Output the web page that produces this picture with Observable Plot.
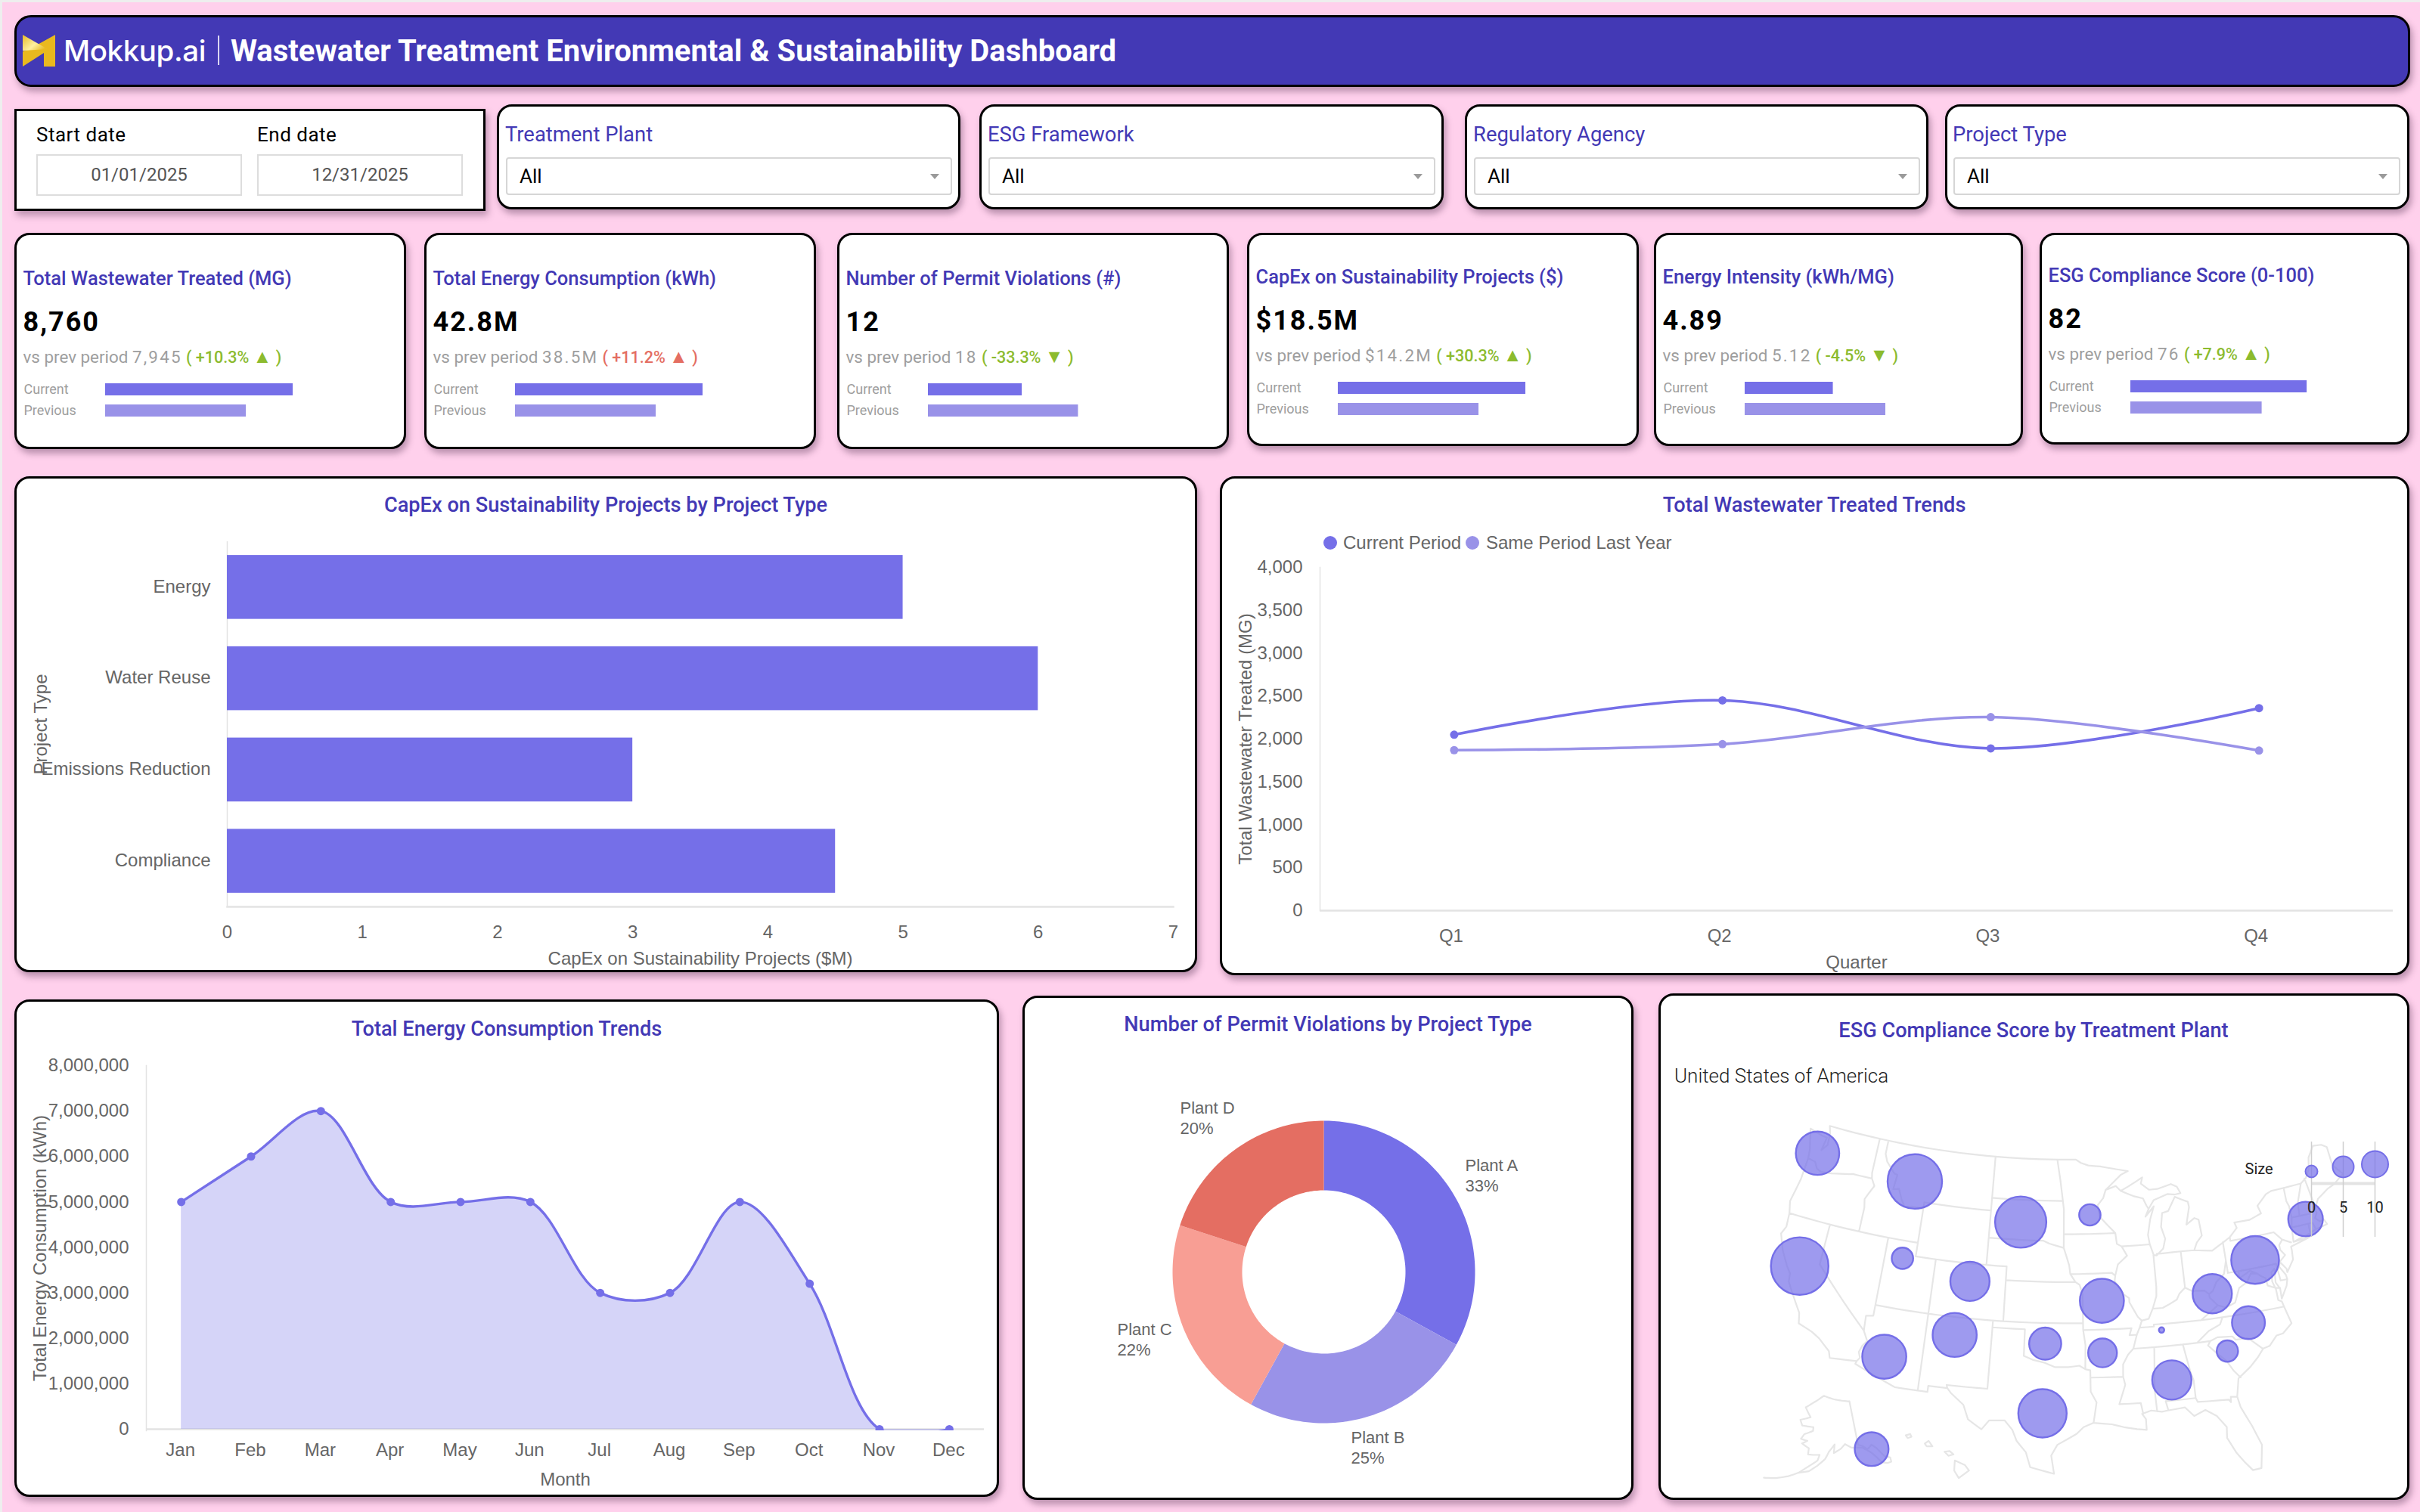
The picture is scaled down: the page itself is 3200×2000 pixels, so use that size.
<!DOCTYPE html>
<html><head><meta charset="utf-8">
<script src="https://cdn.jsdelivr.net/npm/d3@7"></script>
<script src="https://cdn.jsdelivr.net/npm/@observablehq/plot@0.6"></script>
<style>
html,body{margin:0;padding:0;width:3200px;height:2000px;overflow:hidden;background:#ffd0ec;font-family:Roboto,sans-serif}
#root{position:relative;width:3200px;height:2000px;overflow:hidden}
.card{position:absolute;box-sizing:border-box;background:#fff;border:3px solid #000;border-radius:20px;box-shadow:3px 6px 9px rgba(60,30,60,.35)}
.t{position:absolute;white-space:nowrap;transform:translateY(-50%);line-height:1.2}
.c{transform:translate(-50%,-50%)}
.plot{position:absolute}
.plot svg{display:block;overflow:visible;background:transparent}
</style></head><body><div id="root"></div>
<script>
// ---------- data ----------
const kpiTitles=["Total Wastewater Treated (MG)","Total Energy Consumption (kWh)","Number of Permit Violations (#)","CapEx on Sustainability Projects ($)","Energy Intensity (kWh/MG)","ESG Compliance Score (0-100)"];
const kpiValues=["8,760","42.8M","12","$18.5M","4.89","82"];
const kpiPrevious=["7,945","38.5M","18","$14.2M","5.12","76"];
const kpiDeltas=["+10.3%","+11.2%","-33.3%","+30.3%","-4.5%","+7.9%"];
const kpiArrows=["▲","▲","▼","▲","▼","▲"];
const kpiGood=[true,false,true,true,true,true];
const kpiBarCurrent=[100,100,50,100,47,94];
const kpiBarPrevious=[75,75,80,75,75,70];
const filterNames=["Treatment Plant","ESG Framework","Regulatory Agency","Project Type"];
const projectTypes=["Energy","Water Reuse","Emissions Reduction","Compliance"];
const capexByType=[5,6,3,4.5];
const quarters=["Q1","Q2","Q3","Q4"];
const treatedCurrent=[2050,2450,1890,2360];
const treatedLastYear=[1870,1940,2255,1865];
const treatedTicks=[0,500,1000,1500,2000,2500,3000,3500,4000];
const months=["Jan","Feb","Mar","Apr","May","Jun","Jul","Aug","Sep","Oct","Nov","Dec"];
const energyByMonth=[5e6,6e6,7e6,5e6,5e6,5e6,3e6,3e6,5e6,3.2e6,0,0];
const energyTicks=[0,1e6,2e6,3e6,4e6,5e6,6e6,7e6,8e6];
const plantNames=["Plant A","Plant B","Plant C","Plant D"];
const plantShares=[33,25,22,20];
const bubbleLon=[-123.2,-112.4,-100.9,-93.75,-121.8,-112.3,-105.5,-92.8,-82.3,-77.7,-71.95,-79.4,-81.7,-86.9,-87.4,-92.9,-98.1,-98.2,-106.4,-112.4,-135.9];
const bubbleLat=[46.8,46.4,44.3,44.9,38.5,40.7,39.7,38.6,38.4,40.3,42.4,35.9,34.1,32.5,36.2,34.8,35.5,30.4,35.7,33.4,58.8];
const bubbleSize=[33,52,46,8,58,8,27,34,27,40,21,19,8,27,0.5,14.5,18,41,34,34,20];
const sizeLegend=[0,5,10];
// simplified US state lines, [lon,lat]
const usLines=[
// coast and national borders
[[-122.75,49],[-122.5,48.5],[-122.4,47.6],[-122.9,47.1],[-122.7,48.1],[-123.3,48.15],[-124.7,48.4],[-124.1,46.9],[-124,46.25],[-124.1,44.6],[-124.5,42.85],[-124.2,42],[-124.1,41],[-124.4,40.4],[-123.8,39.3],[-123,38.3],[-122.5,37.8],[-122.4,37.2],[-121.9,36.6],[-120.7,35.2],[-120.5,34.45],[-119.2,34.1],[-118.4,33.75],[-117.3,33],[-117.1,32.53],[-114.72,32.72],[-114.8,32.5],[-111.07,31.33],[-108.2,31.33],[-108.2,31.78],[-106.53,31.78],[-106.2,31.47],[-105,30.68],[-104.5,29.65],[-103.3,29],[-102.7,29.7],[-101.4,29.77],[-100.7,29.1],[-100.3,28.3],[-99.5,27.5],[-99.1,26.4],[-97.15,25.95],[-97.4,27.3],[-96.9,28.1],[-95.3,28.9],[-94.7,29.4],[-93.85,29.7],[-92.3,29.55],[-91.3,29.3],[-90.2,29.1],[-89.4,29],[-89.4,29.8],[-89.7,30.2],[-88.9,30.4],[-88,30.25],[-87.5,30.3],[-86,30.4],[-85.3,29.7],[-84.3,30.05],[-83.4,29.5],[-82.7,28.6],[-82.8,27.8],[-82.2,26.6],[-81.7,25.9],[-81.1,25.15],[-80.4,25.2],[-80.05,26.9],[-80.6,28.4],[-81.3,29.9],[-81.45,30.7],[-81.1,32],[-79.9,32.7],[-79.1,33.3],[-78.5,33.85],[-77.9,33.95],[-77.1,34.6],[-76.5,34.65],[-75.55,35.25],[-75.9,36.55],[-76,36.95],[-76.3,37.1],[-76.3,37.9],[-76.5,38.5],[-76.4,39.2],[-76.05,39.4],[-76.2,38.4],[-75.9,37.9],[-75.95,37.15],[-75.25,38],[-75.05,38.45],[-75.1,38.8],[-75.55,39.45],[-75.4,39.8],[-74.9,39.2],[-74.9,38.95],[-74.1,39.75],[-74,40.45],[-74,40.7],[-72,41.05],[-73.65,41],[-72,41.3],[-71.2,41.5],[-70.65,41.55],[-70,41.65],[-70.2,42.05],[-70.6,41.95],[-71,42.3],[-70.7,42.65],[-70.8,42.9],[-70.2,43.6],[-69,44.1],[-68.2,44.3],[-67,44.85],[-67.45,45.3],[-67.8,45.7],[-67.8,47.07],[-68.3,47.35],[-69.2,47.45],[-70,46.7],[-70.3,45.9],[-70.85,45.3],[-71.5,45.01],[-74.7,45],[-75.3,44.85],[-76.4,44.15],[-76.2,43.55],[-77.5,43.25],[-79.05,43.27],[-78.9,42.85],[-79.76,42.27],[-81.7,41.5],[-83.45,41.72],[-83.1,42.25],[-82.5,42.7],[-82.6,43.9],[-83,44.05],[-83.9,43.65],[-83.4,44.9],[-83.45,45.3],[-84.75,45.78],[-85.6,44.8],[-86.25,44.7],[-86.5,43.7],[-86.2,42.8],[-86.5,42.1],[-87.2,41.65],[-87.5,41.7],[-87.8,42.5],[-87.9,43.2],[-87.55,44.3],[-87.05,45.25],[-88,44.55],[-87.6,45.1],[-87,45.7],[-85.5,46.05],[-84.7,45.95],[-84.1,46],[-84.4,46.5],[-85,46.75],[-86.5,46.5],[-87.4,46.5],[-88.2,47],[-88,47.45],[-89.6,46.85],[-90.4,46.57],[-90.9,46.95],[-92,46.7],[-90.3,47.75],[-89.5,48],[-90.8,48.2],[-92.5,48.45],[-93.8,48.55],[-94.6,48.75],[-95.15,49],[-122.75,49]],
// western states
[[-124,46.25],[-123.2,46.15],[-122.8,45.7],[-122.3,45.55],[-121.2,45.65],[-119.3,45.93],[-119,46],[-116.92,46]],
[[-117.03,49],[-117.04,46.42],[-116.92,46],[-116.5,45.5],[-116.9,44.9],[-117.2,44.4],[-117.03,43.8],[-117.03,42]],
[[-124.2,42],[-111.05,42]],
[[-120,42],[-120,39],[-114.63,35],[-114.15,34.3],[-114.5,33.9],[-114.7,33.4],[-114.5,33],[-114.72,32.72]],
[[-114.04,42],[-114.04,36.2],[-114.7,36.1],[-114.63,35]],
[[-116.05,49],[-116.05,48],[-115.7,47.45],[-114.7,46.7],[-114.35,46.65],[-114.5,45.55],[-113.9,45.65],[-113.45,44.95],[-113,44.45],[-112.3,44.55],[-111.5,44.55],[-111.05,44.48]],
[[-111.05,45],[-104.05,45]],
[[-111.05,45],[-111.05,41],[-102.05,41],[-102.05,37]],
[[-114.04,37],[-94.62,37]],
[[-109.05,41],[-109.05,31.33]],
[[-103,37],[-103.05,32],[-106.62,32],[-106.53,31.78]],
[[-103,36.5],[-100,36.5],[-100,34.56],[-99.2,34.3],[-98.1,34.1],[-97.2,33.8],[-96,33.8],[-95,33.9],[-94.48,33.64]],
[[-104.05,49],[-104.05,41]],
[[-104.05,45.94],[-96.56,45.94]],
[[-104.05,43],[-98.5,43],[-97.9,42.8],[-96.45,42.5],[-96.1,41.7],[-95.9,41.2],[-95.8,40.6],[-95.3,40],[-94.9,39.8],[-94.62,39.1],[-94.62,36.5],[-94.43,35.4],[-94.48,33.64],[-94.04,33.55],[-94.04,32],[-93.55,31.2],[-93.85,29.7]],
[[-102.05,40],[-95.3,40]],
// central and eastern states
[[-97.2,49],[-96.85,47.5],[-96.56,45.94],[-96.45,45.3],[-96.45,42.5]],
[[-96.45,43.5],[-91.2,43.5]],
[[-95.77,40.58],[-91.73,40.61],[-91.42,40.38]],
[[-92,46.7],[-92.3,46.1],[-92.9,45.6],[-92.75,44.75],[-91.2,43.5],[-91.1,42.7],[-90.64,42.5],[-90.15,41.8],[-91.1,41.2],[-91.42,40.38],[-91.5,40],[-90.7,39],[-90.2,38.7],[-90.2,38.4],[-89.5,37.3],[-89.15,37],[-89.4,36.5],[-89.7,36],[-90.1,35],[-90.6,34.6],[-91.1,33.9],[-91.15,33],[-91,32.4],[-91.6,31],[-89.75,31],[-89.6,30.2]],
[[-90.64,42.5],[-87.8,42.5]],
[[-90.4,46.57],[-89.1,46.13],[-88.1,45.9],[-87.8,45.35],[-87.6,45.1]],
[[-87.53,41.7],[-87.53,39.35],[-87.6,38.7],[-88.05,37.8]],
[[-89.15,37],[-88.5,37.1],[-88.05,37.8],[-87.1,37.8],[-86.5,38],[-85.7,38.3],[-85.4,38.7],[-84.8,39.1],[-84.2,38.8],[-83,38.7],[-82.6,38.4],[-82.2,38.6],[-81.75,39.2],[-80.9,39.7],[-80.52,40.64]],
[[-84.8,39.1],[-84.8,41.72]],
[[-87.2,41.76],[-84.8,41.76],[-83.45,41.72]],
[[-80.52,42],[-80.52,39.72],[-75.79,39.72]],
[[-79.76,42.27],[-79.76,42],[-75.35,42],[-74.7,41.35],[-75.1,41],[-75.1,40.65],[-74.75,40.2],[-75.4,39.8]],
[[-74.7,41.35],[-73.9,41]],
[[-73.65,41],[-73.5,42.05],[-73.27,42.75],[-73.25,43.6],[-73.4,44],[-73.35,45.01]],
[[-73.5,42.05],[-71.38,42.02],[-71.2,41.5]],
[[-71.8,42.02],[-71.85,41.32]],
[[-73.27,42.75],[-71.3,42.7],[-70.85,42.87]],
[[-72.46,42.73],[-72.3,43.7],[-71.5,45.01]],
[[-70.7,43.1],[-71,45.3]],
[[-75.79,39.72],[-75.7,38.46],[-75.05,38.45]],
[[-75.9,37.95],[-76.3,38],[-77,38.3],[-77.05,38.85],[-77.5,39.1],[-77.75,39.3],[-78.4,39.6],[-79.5,39.2],[-79.48,39.72]],
[[-77.75,39.3],[-78.35,39.4],[-78.9,38.8],[-79.7,38.5],[-80.3,37.5],[-81.2,37.25],[-81.95,37.5],[-82.6,38.15],[-82.6,38.4]],
[[-81.95,37.5],[-83.68,36.6]],
[[-75.9,36.55],[-81.68,36.59],[-83.68,36.6],[-88.07,36.65],[-88.07,36.5],[-89.4,36.5]],
[[-81.68,36.59],[-82,36.1],[-83.1,35.75],[-84.3,35]],
[[-83.1,35],[-90.1,35]],
[[-83.1,35],[-82.4,35.2],[-81.05,35.1],[-80.8,34.82],[-79.67,34.8],[-78.55,33.85]],
[[-83.1,35],[-83.35,34.7],[-82.6,34],[-81.9,33.4],[-81.4,32.6],[-80.9,32.05]],
[[-85.6,35],[-85.18,32.87],[-85,32.3],[-85,31],[-87.6,31],[-87.45,30.35]],
[[-85,31],[-84.86,30.7],[-82.2,30.57],[-82.05,30.36],[-82,30.75],[-81.45,30.7]],
[[-88.2,35],[-88.47,31.9],[-88.4,30.3]],
[[-94.62,36.5],[-90.15,36.5],[-90.37,36],[-89.7,36]],
[[-94.04,33.02],[-91.15,33]],
// Alaska
[[-141,69.65],[-141,60.3],[-139.5,60],[-137.5,59],[-135.5,59.7],[-134,58.8],[-131.9,56.6],[-130,55.9],[-130.2,55],[-131.5,55],[-133.5,55.5],[-135,57],[-136.5,58.2],[-139.5,59.6],[-144,60],[-146.5,60.9],[-148.5,60],[-151.5,59.2],[-151,61],[-153.5,59.5],[-155,58],[-158,56.5],[-161,55.2],[-164.7,54.6],[-162,55.9],[-158,57.6],[-157.3,58.8],[-160,58.7],[-162,58.7],[-162,60],[-165.2,60.8],[-163,61.5],[-166,61.7],[-164.8,62.8],[-161,63.7],[-161,64.5],[-166.5,64.5],[-168,65.6],[-163,66.5],[-166.5,68.4],[-163,69.5],[-156.5,71.3],[-150,70.5],[-141,69.65]],
[[-164.7,54.6],[-168,53.5],[-172,52.5],[-176,51.8]],
// Hawaii
[[-155.9,20.25],[-155.1,19.9],[-154.8,19.5],[-155.6,18.95],[-155.95,19.5],[-155.9,20.25]],
[[-156.7,20.9],[-156.3,20.95],[-156,20.7],[-156.4,20.6],[-156.7,20.9]],
[[-158.25,21.5],[-157.95,21.7],[-157.65,21.3],[-158.1,21.3],[-158.25,21.5]],
[[-159.75,22.1],[-159.4,22.2],[-159.3,22],[-159.6,21.9],[-159.75,22.1]]
];

// ---------- palette ----------
const indigo="#4339b5",violet="#756fe8",lilac="#9992e8",axisGray="#666666",axisLine="#e3e3e3";
const plantColors=[violet,lilac,"#f89e94","#e46e62"];
const thousands=d3.format(",d");

// ---------- helpers ----------
const root=document.getElementById("root");
function card(x,y,x2,y2,extra){const d=document.createElement("div");d.className="card";d.style.cssText=`left:${x}px;top:${y}px;width:${x2-x}px;height:${y2-y}px;${extra||""}`;root.appendChild(d);return d}
function txt(x,cy,s,css,center){const d=document.createElement("div");d.className="t"+(center?" c":"");d.style.cssText=`left:${x}px;top:${cy}px;${css||""}`;if(typeof s==="string")d.textContent=s;else d.append(...s);root.appendChild(d);return d}
function box(x,y,x2,y2,css){const d=document.createElement("div");d.style.cssText=`position:absolute;box-sizing:border-box;left:${x}px;top:${y}px;width:${x2-x}px;height:${y2-y}px;${css}`;root.appendChild(d);return d}
function mount(x,y,svg){const d=document.createElement("div");d.className="plot";d.style.cssText=`left:${x}px;top:${y}px`;d.appendChild(svg);root.appendChild(d)}
const chartTitle=(x,cy,s)=>txt(x,cy,s,`font:500 27.2px Roboto;color:${indigo}`,true);
const axisStyle={fontFamily:"'Liberation Sans',Arial,sans-serif",fontSize:"24px",background:"transparent",overflow:"visible"};

// page frame
box(0,0,3200,3,"background:#eee");box(0,0,3,2000,"background:#eee");

// ---------- header ----------
card(19,20,3187,115,`background:${indigo};border-radius:22px`);
const logo=document.createElement("div");
logo.style.cssText="position:absolute;left:29px;top:45px";
logo.innerHTML=`<svg width="46" height="44" viewBox="0 0 46 44"><defs><linearGradient id="gold" x1="0" y1="0" x2="1" y2="0.7"><stop offset="0" stop-color="#e7bb25"/><stop offset=".6" stop-color="#fdf0a0"/><stop offset="1" stop-color="#e7bb25"/></linearGradient></defs><path d="M44 1 L44 43 L29 43 L29 25 L1 43 L1 23 L17 16 Z" fill="#e9b91f"/><path d="M1 1 L34 20 L1 22 Z" fill="url(#gold)"/></svg>`;
root.appendChild(logo);
txt(84,67,"Mokkup.ai","font:500 38.5px Inter;color:#fff;letter-spacing:-.4px");
box(288,47,290,86,"background:#d9d6f2");
txt(305,67,"Wastewater Treatment Environmental & Sustainability Dashboard","font:700 40px Roboto;color:#fff");

// ---------- date control ----------
card(19,144,642,279,"border-radius:0");
txt(48,178,"Start date","font:400 26px Roboto;color:#000;letter-spacing:.5px");
txt(340,178,"End date","font:400 26px Roboto;color:#000;letter-spacing:.5px");
[[48,320,"01/01/2025"],[340,612,"12/31/2025"]].forEach(([a,b,s])=>{
  box(a,204,b,259,"background:#fff;border:2px solid #ddd");
  txt((a+b)/2,231,s,"font:400 24px Roboto;color:#555",true);
});

// ---------- filters ----------
const filterBoxes=[[657,1270,669,1259],[1295,1909,1307,1898],[1937,2550,1949,2539],[2572,3186,2583,3174]];
filterBoxes.forEach(([a,b,c,e],i)=>{
  card(a,138,b,277);
  txt(c-1,178,filterNames[i],`font:400 27.4px Roboto;color:${indigo}`);
  box(c,208,e,258,"background:#fff;border:2px solid #d6d6d6;border-radius:4px");
  txt(c+18,233,"All","font:400 26px Roboto;color:#000");
  box(e-29,230,e-17,237,"background:#9a9a9a;clip-path:polygon(0 0,100% 0,50% 100%)");
});

// ---------- KPI cards ----------
const kpiBoxes=[[19,537,594,0],[561,1079,594,0],[1107,1625,594,0],[1649,2167,590,-2],[2187,2675,590,-2],[2697,3186,588,-4]];
kpiBoxes.forEach(([a,b,bottom,dy],i)=>{
  card(a,308,b,bottom);
  const x=a+11.5;
  txt(x,368+dy,kpiTitles[i],`font:500 25.5px Roboto;color:${indigo}`);
  txt(x,426+dy,kpiValues[i],"font:700 36px Roboto;color:#000;letter-spacing:2px");
  const col=kpiGood[i]?"#8cbb2e":"#e46e62";
  const sub=document.createElement("span");sub.textContent=`vs prev period `;
  const prev=document.createElement("span");prev.textContent=kpiPrevious[i];prev.style.letterSpacing="2.2px";
  const d=document.createElement("span");d.style.cssText=`color:${col};font-weight:500;white-space:pre;font-size:21.5px`;
  const arrow=document.createElement("span");arrow.textContent=kpiArrows[i];arrow.style.fontSize="25px";
  d.append(` ( ${kpiDeltas[i]} `,arrow,` )`);
  txt(x,471+dy,[sub,prev,d],"font:400 22.4px Roboto;color:#9e9e9e");
  const rows=["Current","Previous"];
  const data=[{k:rows[0],v:kpiBarCurrent[i]},{k:rows[1],v:kpiBarPrevious[i]}];
  const svg=Plot.plot({width:368,height:56,margin:0,marginLeft:108,marginRight:12,
    style:{fontFamily:"Roboto",fontSize:"18px",background:"transparent",overflow:"visible"},
    x:{domain:[0,100],range:[108,356],axis:null},
    y:{domain:rows,paddingInner:.4286,paddingOuter:.2143,axis:null,round:false},
    color:{domain:rows,range:[violet,lilac]},
    marks:[Plot.barX(data,{x:"v",y:"k",fill:"k"}),
      Plot.text(rows,{y:d=>d,text:d=>d,frameAnchor:"left",dx:-108,textAnchor:"start",fill:"#9e9e9e"})]});
  mount(x,501+dy,svg);
});

// ---------- CapEx bars ----------
card(19,630,1583,1286);
chartTitle(801,668,"CapEx on Sustainability Projects by Project Type");
mount(19,630,Plot.plot({width:1563,height:656,marginLeft:281,marginRight:31,marginTop:86,marginBottom:87,style:axisStyle,
  x:{domain:[0,7]},
  y:{domain:projectTypes,paddingInner:.3,paddingOuter:.15,round:false},
  marks:[
    Plot.frame({anchor:"bottom",stroke:axisLine,strokeWidth:2.5}),
    Plot.ruleX([0],{stroke:axisLine,strokeWidth:1.5}),
    Plot.barX(projectTypes.map((t,i)=>({t,v:capexByType[i]})),{x:"v",y:"t",fill:violet}),
    Plot.axisX({ticks:8,tickSize:0,tickPadding:24,color:axisGray,label:"CapEx on Sustainability Projects ($M)",labelAnchor:"center",labelArrow:"none",labelOffset:76}),
    Plot.axisY({tickSize:0,tickPadding:22,dy:-1,color:axisGray,label:"Project Type",labelAnchor:"center",labelArrow:"none",labelOffset:256})
  ]}));

// ---------- Wastewater trends ----------
card(1613,630,3186,1290);
chartTitle(2399,668,"Total Wastewater Treated Trends");
const dotCss=c=>`border-radius:50%;background:${c}`;
box(1750,709,1768,727,dotCss(violet));
txt(1776,718,"Current Period",`font:24px 'Liberation Sans';color:${axisGray}`);
box(1938,709,1956,727,dotCss(lilac));
txt(1965,718,"Same Period Last Year",`font:24px 'Liberation Sans';color:${axisGray}`);
const treatedRows=quarters.flatMap((q,i)=>[{q,v:treatedCurrent[i],s:"Current Period"},{q,v:treatedLastYear[i],s:"Same Period Last Year"}]);
mount(1613,630,Plot.plot({width:1572,height:660,marginLeft:132,marginRight:21,marginTop:120,marginBottom:86,style:axisStyle,
  x:{type:"point",domain:quarters,padding:.5,round:false},
  y:{domain:[0,4000]},
  color:{domain:["Current Period","Same Period Last Year"],range:[violet,lilac]},
  marks:[
    Plot.ruleY([0],{stroke:axisLine,strokeWidth:2.5}),
    Plot.frame({anchor:"left",stroke:axisLine,strokeWidth:1.5}),
    Plot.line(treatedRows,{x:"q",y:"v",z:"s",stroke:"s",strokeWidth:3.6,curve:"catmull-rom"}),
    Plot.dot(treatedRows,{x:"q",y:"v",fill:"s",r:5.5}),
    Plot.axisX({tickSize:0,tickPadding:24,dx:-4,color:axisGray,label:"Quarter",labelAnchor:"center",labelArrow:"none",labelOffset:76}),
    Plot.axisY({ticks:treatedTicks,tickFormat:thousands,tickSize:0,tickPadding:23,color:axisGray,label:"Total Wastewater Treated (MG)",labelAnchor:"center",labelArrow:"none",labelOffset:108})
  ]}));

// ---------- Energy trends ----------
card(19,1322,1321,1980);
chartTitle(670,1361,"Total Energy Consumption Trends");
const energyRows=months.map((m,i)=>({m,v:energyByMonth[i]}));
mount(19,1322,Plot.plot({width:1301,height:658,marginLeft:174,marginRight:19,marginTop:87,marginBottom:88,style:axisStyle,
  x:{type:"point",domain:months,padding:.5,round:false},
  y:{domain:[0,8e6],range:[568,87]},
  marks:[
    Plot.ruleY([0],{stroke:axisLine,strokeWidth:2.5}),
    Plot.frame({anchor:"left",stroke:axisLine,strokeWidth:1.5}),
    Plot.areaY(energyRows,{x:"m",y:"v",fill:violet,fillOpacity:.3,curve:"catmull-rom",clip:true}),
    Plot.line(energyRows,{x:"m",y:"v",stroke:violet,strokeWidth:3.4,curve:"catmull-rom",clip:true}),
    Plot.dot(energyRows,{x:"m",y:"v",fill:violet,r:5.5,clip:true}),
    Plot.axisX({tickSize:0,tickPadding:16,dx:-1,color:axisGray,label:"Month",labelAnchor:"center",labelArrow:"none",labelOffset:72}),
    Plot.axisY({ticks:energyTicks,tickFormat:thousands,tickSize:0,tickPadding:23,color:axisGray,label:"Total Energy Consumption (kWh)",labelAnchor:"center",labelArrow:"none",labelOffset:150})
  ]}));

// ---------- Donut ----------
card(1352,1317,2160,1984);
chartTitle(1756,1355,"Number of Permit Violations by Project Type");
const pie=d3.pie().sort(null)(plantShares);
const holeRatio=.54;
const wedges=pie.map((p,i)=>{
  const steps=d3.range(0,61).map(k=>p.startAngle+(p.endAngle-p.startAngle)*k/60);
  const outer=steps.map(a=>[Math.sin(a),-Math.cos(a)]);
  const inner=steps.slice().reverse().map(a=>[holeRatio*Math.sin(a),-holeRatio*Math.cos(a)]);
  return {type:"Feature",properties:{plant:plantNames[i]},geometry:{type:"Polygon",coordinates:[[...outer,...inner,outer[0]]]}};
});
const donutLabels=[[585,213],[434,573],[125,430],[208,137]];
mount(1352,1317,Plot.plot({width:808,height:667,margin:0,style:{...axisStyle,fontSize:"22px"},
  projection:d3.geoIdentity().scale(200).translate([398,365]),
  color:{domain:plantNames,range:plantColors},
  marks:[
    Plot.geo(wedges,{fill:d=>d.properties.plant}),
    ...plantNames.map((n,i)=>Plot.text([`${n}\n${plantShares[i]}%`],{text:d=>d,frameAnchor:"top-left",dx:donutLabels[i][0],dy:donutLabels[i][1],textAnchor:"start",lineAnchor:"top",lineHeight:1.2,fill:axisGray}))
  ]}));

// ---------- Bubble map ----------
card(2193,1314,3186,1984);
chartTitle(2689,1363,"ESG Compliance Score by Treatment Plant");
txt(2214,1423,"United States of America","font:300 26px Roboto;color:#222");
function densify(line){const out=[];for(let i=0;i<line.length-1;i++){const [a,b]=[line[i],line[i+1]];const n=Math.max(1,Math.ceil(Math.hypot(a[0]-b[0],a[1]-b[1])));for(let k=0;k<n;k++)out.push([a[0]+(b[0]-a[0])*k/n,a[1]+(b[1]-a[1])*k/n])}out.push(line[line.length-1]);return out}
const usGeo={type:"MultiLineString",coordinates:usLines.map(densify)};
const bubbles=bubbleLon.map((lon,i)=>({lon,lat:bubbleLat[i],size:bubbleSize[i]}));
mount(2193,1314,Plot.plot({width:992,height:670,margin:0,style:{background:"transparent",overflow:"visible"},
  projection:d3.geoAlbersUsa().scale(1030).translate([533,405]),
  r:{type:"sqrt",domain:[0,60],range:[0,38.7]},
  marks:[
    Plot.geo(usGeo,{stroke:"#e6e6e6",strokeWidth:2.2,fill:"none"}),
    Plot.dot(bubbles,{x:"lon",y:"lat",r:"size",fill:violet,fillOpacity:.7,stroke:violet,strokeWidth:2.4})
  ]}));
// size legend
const sizeRadius=[8,14,17.5];
mount(2960,1510,Plot.plot({width:220,height:110,margin:0,style:{fontFamily:"Roboto",fontSize:"20px",background:"transparent",overflow:"visible"},
  x:{domain:[0,10],range:[96,180],axis:null},
  y:{domain:[0,1],range:[55,55],axis:null},
  marks:[
    Plot.ruleY([0],{x1:0,x2:10,stroke:axisLine,strokeWidth:4}),
    Plot.ruleX(sizeLegend,{y1:0,y2:0,insetBottom:-16,stroke:"#cfcfcf",strokeWidth:1.5}),
    ...sizeLegend.map((v,i)=>Plot.dot([v],{x:d=>d,y:0,dy:-8-sizeRadius[i],r:sizeRadius[i],fill:violet,fillOpacity:.7,stroke:violet,strokeWidth:2})),
    Plot.text(sizeLegend,{x:d=>d,y:0,dy:32,text:d=>String(d),fill:"#222"}),
    Plot.text(["Size"],{text:d=>d,frameAnchor:"top-left",dx:8,dy:28,textAnchor:"start",fill:"#222"})
  ]}));
</script></body></html>
